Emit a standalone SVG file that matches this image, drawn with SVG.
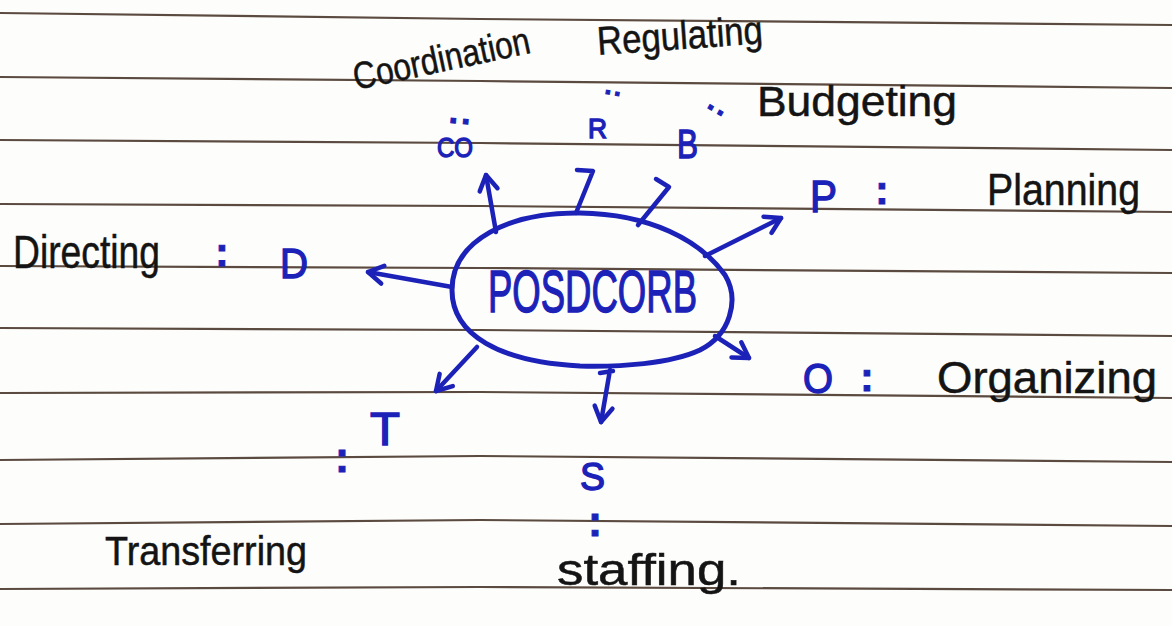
<svg xmlns="http://www.w3.org/2000/svg" width="1172" height="626" viewBox="0 0 1172 626">
<defs>
<style>
.paper{fill:#fdfdfb}
.rule{fill:none;stroke:#5b4a3f;stroke-width:2.2}
.ink{fill:#141414;stroke:#141414;stroke-width:0.5;font-family:"Liberation Sans","DejaVu Sans",sans-serif}
.blue{fill:#1c22b8;stroke:#1c22b8;stroke-width:1.4;font-family:"Liberation Sans","DejaVu Sans",sans-serif}
.colon{fill:#1c22b8;stroke:#1c22b8;stroke-width:1;font-family:"Liberation Sans","DejaVu Sans",sans-serif;font-weight:bold;text-anchor:middle}
.wire{fill:none;stroke:#1c22b8;stroke-width:4.5;stroke-linecap:round;stroke-linejoin:round}
</style>
<marker id="head" viewBox="0 0 24 24" markerWidth="24" markerHeight="24" refX="20" refY="12" orient="auto" markerUnits="userSpaceOnUse">
<path d="M5,3 L20,12 L5,21" fill="none" stroke="#1c22b8" stroke-width="4.5" stroke-linecap="round" stroke-linejoin="round"/>
</marker>
</defs>
<rect class="paper" x="0" y="0" width="1172" height="626"/>
<g id="ruled-lines">
<polyline class="rule" points="0,13 480,19 1172,25"/>
<polyline class="rule" points="0,77 480,81 1172,88"/>
<polyline class="rule" points="0,140 480,143 1172,150"/>
<polyline class="rule" points="0,204 480,206 1172,212"/>
<polyline class="rule" points="0,266 480,268 1172,273"/>
<polyline class="rule" points="0,328 480,330 1172,336"/>
<polyline class="rule" points="0,393 480,392 1172,398"/>
<polyline class="rule" points="0,460 480,456 1172,462"/>
<polyline class="rule" points="0,524 480,520 1172,526"/>
<polyline class="rule" points="0,589 480,587 1172,590"/>
</g>
<g id="connectors">
<path class="wire" d="M496,232 L486,175" marker-end="url(#head)"/>
<path class="wire" d="M576,213 L593,171 L577,170"/>
<path class="wire" d="M638,225 L669,187 L656,179"/>
<path class="wire" d="M705,256 L781,218" marker-end="url(#head)"/>
<path class="wire" d="M452,287 L368,272" marker-end="url(#head)"/>
<path class="wire" d="M715,336 L749,358" marker-end="url(#head)"/>
<path class="wire" d="M600,373 L613,371 M610,370 L601,422" marker-end="url(#head)"/>
<path class="wire" d="M477,347 L436,391" marker-end="url(#head)"/>
</g>
<g id="node-posdcorb">
<path d="M452,290 C452,240 510,212 580,213 C650,214 700,240 725,275 C740,300 730,335 700,350 C670,364 620,367 580,366 C500,362 452,335 452,290 Z" fill="none" stroke="#1c22b8" stroke-width="5"/>
<text class="blue" x="488" y="312" font-size="60" textLength="209" lengthAdjust="spacingAndGlyphs">POSDCORB</text>
</g>
<g id="node-coordination">
<text class="blue" x="437" y="157" font-size="28" textLength="36" lengthAdjust="spacingAndGlyphs">CO</text>
<text class="colon" font-size="34" transform="translate(459,121) rotate(-85)" x="0" y="9">:</text>
<text class="ink" font-size="38" textLength="180" lengthAdjust="spacingAndGlyphs" transform="translate(356,90) rotate(-12)" x="0" y="0">Coordination</text>
</g>
<g id="node-regulating">
<text class="blue" x="588" y="138" font-size="28" textLength="19" lengthAdjust="spacingAndGlyphs">R</text>
<text class="colon" font-size="26" transform="translate(612,93) rotate(-80)" x="0" y="7">:</text>
<text class="ink" font-size="40" textLength="166" lengthAdjust="spacingAndGlyphs" transform="translate(598,55) rotate(-4)" x="0" y="0">Regulating</text>
</g>
<g id="node-budgeting">
<text class="blue" x="677" y="158" font-size="40" textLength="21" lengthAdjust="spacingAndGlyphs">B</text>
<text class="colon" font-size="30" transform="translate(715,110) rotate(-60)" x="0" y="8">:</text>
<text class="ink" x="757" y="116" font-size="42" textLength="200" lengthAdjust="spacingAndGlyphs">Budgeting</text>
</g>
<g id="node-planning">
<text class="blue" x="810" y="212" font-size="44" textLength="27" lengthAdjust="spacingAndGlyphs">P</text>
<text class="colon" x="882" y="204" font-size="40">:</text>
<text class="ink" x="987" y="205" font-size="44" textLength="153" lengthAdjust="spacingAndGlyphs">Planning</text>
</g>
<g id="node-directing">
<text class="blue" x="280" y="278" font-size="43" textLength="28" lengthAdjust="spacingAndGlyphs">D</text>
<text class="colon" x="222" y="266" font-size="40">:</text>
<text class="ink" x="13" y="268" font-size="46" textLength="147" lengthAdjust="spacingAndGlyphs">Directing</text>
</g>
<g id="node-organizing">
<text class="blue" x="803" y="393" font-size="42" textLength="30" lengthAdjust="spacingAndGlyphs">O</text>
<text class="colon" x="867" y="391" font-size="40">:</text>
<text class="ink" x="937" y="393" font-size="44" textLength="220" lengthAdjust="spacingAndGlyphs">Organizing</text>
</g>
<g id="node-transferring">
<text class="blue" x="370" y="445" font-size="46" textLength="30" lengthAdjust="spacingAndGlyphs">T</text>
<text class="colon" x="342" y="472" font-size="42">:</text>
<text class="ink" x="105" y="565" font-size="40" textLength="202" lengthAdjust="spacingAndGlyphs">Transferring</text>
</g>
<g id="node-staffing">
<text class="blue" x="580" y="490" font-size="38" textLength="25" lengthAdjust="spacingAndGlyphs">S</text>
<text class="colon" x="595" y="536" font-size="42">:</text>
<text class="ink" x="557" y="585" font-size="44" textLength="184" lengthAdjust="spacingAndGlyphs">staffing.</text>
</g>
</svg>
